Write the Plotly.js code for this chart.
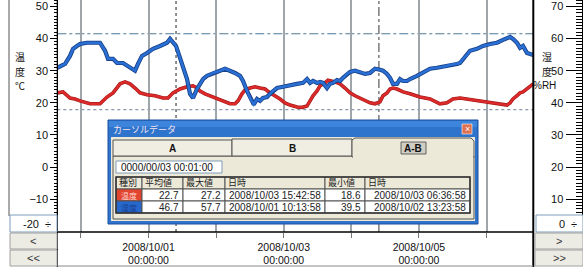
<!DOCTYPE html>
<html><head><meta charset="utf-8">
<script src="https://cdn.plot.ly/plotly-3.0.1.min.js"></script>
<style>html,body{margin:0;padding:0;background:#fff;overflow:hidden}#chart{width:583px;height:267px}</style>
</head><body><div id="chart"></div>
<script>
// ---------------- data ----------------
const tempTime = ['2008-09-29 15:37','2008-09-29 17:39','2008-09-29 20:08','2008-09-29 21:55','2008-09-29 23:41','2008-09-30 03:14','2008-09-30 06:47','2008-09-30 07:51','2008-09-30 09:16','2008-09-30 11:24','2008-09-30 13:53','2008-09-30 15:40','2008-09-30 17:26','2008-09-30 19:13','2008-09-30 20:59','2008-09-30 23:28','2008-10-01 02:18','2008-10-01 05:09','2008-10-01 06:55','2008-10-01 08:42','2008-10-01 11:11','2008-10-01 13:40','2008-10-01 15:48','2008-10-01 17:13','2008-10-01 18:17','2008-10-01 20:04','2008-10-01 21:50','2008-10-02 00:19','2008-10-02 02:27','2008-10-02 04:56','2008-10-02 06:43','2008-10-02 07:46','2008-10-02 09:11','2008-10-02 10:15','2008-10-02 12:02','2008-10-02 13:48','2008-10-02 15:35','2008-10-02 17:21','2008-10-02 19:08','2008-10-02 20:54','2008-10-02 22:41','2008-10-03 00:27','2008-10-03 02:14','2008-10-03 04:43','2008-10-03 06:37','2008-10-03 08:16','2008-10-03 09:20','2008-10-03 10:24','2008-10-03 11:49','2008-10-03 12:53','2008-10-03 14:39','2008-10-03 15:43','2008-10-03 18:12','2008-10-03 19:59','2008-10-03 21:45','2008-10-03 23:32','2008-10-04 01:19','2008-10-04 03:05','2008-10-04 04:52','2008-10-04 06:38','2008-10-04 08:25','2008-10-04 10:11','2008-10-04 11:15','2008-10-04 12:40','2008-10-04 13:44','2008-10-04 14:48','2008-10-04 16:13','2008-10-04 18:21','2008-10-04 20:50','2008-10-05 00:22','2008-10-05 03:56','2008-10-05 07:28','2008-10-05 09:57','2008-10-05 12:05','2008-10-05 14:35','2008-10-05 17:04','2008-10-05 19:11','2008-10-05 21:40','2008-10-06 01:14','2008-10-06 04:46','2008-10-06 07:16','2008-10-06 08:20','2008-10-06 09:24','2008-10-06 10:49','2008-10-06 11:53','2008-10-06 12:57','2008-10-06 14:22','2008-10-06 15:26','2008-10-06 16:36'];
const tempVals = [23.1,23.4,21.5,21.2,20.6,19.7,19.7,20.6,21.8,23.1,25.9,26.5,25.9,24.6,23.1,22.5,22.2,21.5,21.5,23.1,24.3,25.0,25.3,24.6,23.7,22.8,22.2,21.5,20.6,19.7,19.7,20.6,22.8,24.0,24.6,25.0,24.6,24.3,23.1,22.2,21.2,20.0,19.3,18.7,18.6,19.0,20.6,22.2,23.7,25.3,26.2,27.0,26.5,25.9,24.6,23.1,22.2,21.5,20.9,20.0,19.7,20.3,22.2,23.1,24.3,24.6,24.3,23.4,22.8,21.8,21.2,19.7,20.0,21.2,21.5,21.2,20.9,20.6,20.0,19.7,19.3,20.0,21.2,22.2,23.1,23.4,24.3,25.0,25.9];

const humTime = ['2008-09-29 15:37','2008-09-29 17:17','2008-09-29 18:22','2008-09-29 20:08','2008-09-29 21:12','2008-09-29 22:37','2008-09-29 23:41','2008-09-30 02:10','2008-09-30 05:00','2008-09-30 06:47','2008-09-30 08:34','2008-09-30 09:37','2008-09-30 11:24','2008-09-30 12:49','2008-09-30 14:57','2008-09-30 16:43','2008-09-30 18:08','2008-09-30 19:13','2008-09-30 20:16','2008-09-30 21:41','2008-09-30 23:28','2008-10-01 01:36','2008-10-01 04:05','2008-10-01 06:34','2008-10-01 07:38','2008-10-01 08:42','2008-10-01 09:46','2008-10-01 11:11','2008-10-01 12:15','2008-10-01 13:40','2008-10-01 14:44','2008-10-01 15:48','2008-10-01 17:13','2008-10-01 18:17','2008-10-01 19:21','2008-10-01 20:46','2008-10-01 22:54','2008-10-02 01:23','2008-10-02 03:10','2008-10-02 04:56','2008-10-02 06:43','2008-10-02 08:29','2008-10-02 09:33','2008-10-02 10:58','2008-10-02 12:02','2008-10-02 13:23','2008-10-02 14:31','2008-10-02 15:35','2008-10-02 16:39','2008-10-02 18:04','2008-10-02 19:08','2008-10-02 20:12','2008-10-02 21:37','2008-10-02 23:45','2008-10-03 02:14','2008-10-03 04:43','2008-10-03 06:51','2008-10-03 08:16','2008-10-03 09:20','2008-10-03 10:24','2008-10-03 11:49','2008-10-03 12:53','2008-10-03 13:57','2008-10-03 15:22','2008-10-03 16:26','2008-10-03 17:30','2008-10-03 18:55','2008-10-03 19:59','2008-10-03 21:03','2008-10-03 22:28','2008-10-03 23:32','2008-10-04 01:19','2008-10-04 03:05','2008-10-04 04:52','2008-10-04 06:38','2008-10-04 08:25','2008-10-04 10:11','2008-10-04 11:15','2008-10-04 12:40','2008-10-04 13:44','2008-10-04 14:48','2008-10-04 16:13','2008-10-04 17:17','2008-10-04 18:21','2008-10-04 19:46','2008-10-04 20:50','2008-10-04 23:19','2008-10-05 01:27','2008-10-05 03:56','2008-10-05 06:25','2008-10-05 08:33','2008-10-05 11:02','2008-10-05 13:31','2008-10-05 14:35','2008-10-05 15:39','2008-10-05 17:04','2008-10-05 18:08','2008-10-05 20:37','2008-10-05 22:45','2008-10-06 01:14','2008-10-06 03:43','2008-10-06 05:51','2008-10-06 07:16','2008-10-06 08:20','2008-10-06 09:24','2008-10-06 10:49','2008-10-06 11:53','2008-10-06 12:57','2008-10-06 14:22','2008-10-06 15:26','2008-10-06 16:36'];
const humVals = [50.9,51.5,52.1,54.6,56.8,57.7,58.3,58.7,58.7,58.7,56.2,53.7,53.7,52.4,52.4,51.5,50.6,50.0,52.1,54.6,55.5,56.8,57.7,58.7,59.9,58.7,57.7,54.0,50.9,47.4,42.8,41.5,44.3,45.9,47.4,48.4,49.3,50.0,50.6,50.0,49.3,48.4,46.8,43.7,41.5,39.5,41.2,40.6,41.5,41.8,42.8,43.7,44.6,45.0,45.3,45.9,46.2,47.4,46.2,46.8,46.2,46.5,46.2,44.6,45.9,46.2,47.1,46.8,47.8,49.0,49.6,50.0,49.6,49.0,49.3,50.6,50.3,50.0,49.0,47.8,45.9,45.9,47.4,46.8,46.8,47.4,48.4,49.3,50.6,50.9,51.2,51.8,52.1,52.4,53.7,54.9,56.2,56.8,57.7,58.3,58.7,59.6,60.2,60.5,59.9,58.7,57.1,57.7,55.5,55.2,54.9];

const dayTicks  = ['2008-09-30','2008-10-01','2008-10-02','2008-10-03','2008-10-04','2008-10-05','2008-10-06'];
const dayLabels = ['','2008/10/01<br>00:00:00','','2008/10/03<br>00:00:00','','2008/10/05<br>00:00:00',''];
const tempTicks = [-10, 0, 10, 20, 30, 40, 50];
const humTicks  = [10, 20, 30, 40, 50, 60, 70];
const tempMin = '-20', humMin = '0';
const tempTitle = ['温', '度', '℃'];
const humTitle = ['湿', '度', '%RH'];
const cursorA = '2008-10-01 09:46';
const cursorB = '2008-10-04 09:47';
const upperLimit = 41.5;
const lowerLimit = 17.9;

const tabNames = ['A','B','A-B'];
const spanText = '0000/00/03 00:01:00';
const tableHeader = ['種別','平均値','最大値','日時','最小値','日時'];
const seriesNames = ['温度','湿度'];
const avgVals = ['22.7','46.7'];
const maxVals = ['27.2','57.7'];
const maxTimes = ['2008/10/03 15:42:58','2008/10/01 10:13:58'];
const minVals = ['18.6','39.5'];
const minTimes = ['2008/10/03 06:36:58','2008/10/02 13:23:58'];

// ---------------- geometry helpers ----------------
const W = 583, H = 267;
const px = x => x / W, py = y => 1 - y / H;
const FONT = 'Liberation Sans, Arial, sans-serif';
const JFONT = 'Noto Sans CJK JP, sans-serif';

const shapes = [];
const annotations = [];
function rect(x0, y0, x1, y1, fill, line, lw, layer) {
  shapes.push({type:'rect', xref:'paper', yref:'paper', x0:px(x0), x1:px(x1), y0:py(y1), y1:py(y0),
    fillcolor:fill, line:{color:line||'rgba(0,0,0,0)', width:lw===undefined?1:lw}, layer:layer||'above'});
}
function pline(x0, y0, x1, y1, color, w, dash) {
  shapes.push({type:'line', xref:'paper', yref:'paper', x0:px(x0), x1:px(x1), y0:py(y0), y1:py(y1),
    line:{color:color, width:w, dash:dash||'solid'}, layer:'above'});
}
function ann(text, x, y, size, opts) {
  annotations.push(Object.assign({text:text, xref:'paper', yref:'paper', x:px(x), y:py(y), showarrow:false,
    xanchor:'center', yanchor:'middle', borderpad:0, font:{family:FONT, size:size, color:'#111'}}, opts||{}));
}

// ---------------- traces ----------------
const traces = [
  {type:'scatter', mode:'lines', x:tempTime, y:tempVals, yaxis:'y', line:{color:'#a01818', width:3.6}, hoverinfo:'skip'},
  {type:'scatter', mode:'lines', x:tempTime, y:tempVals, yaxis:'y', line:{color:'#dc2a2a', width:2.4}, hoverinfo:'skip'},
  {type:'scatter', mode:'lines', x:humTime, y:humVals, yaxis:'y2', line:{color:'#173f86', width:4.2}, hoverinfo:'skip'},
  {type:'scatter', mode:'lines', x:humTime, y:humVals, yaxis:'y2', line:{color:'#2a6fd4', width:2.6}, hoverinfo:'skip'}
];

// reference / cursor lines (data coordinates)
shapes.push({type:'line', xref:'paper', yref:'y', x0:px(57.3), x1:px(533.3), y0:upperLimit, y1:upperLimit, line:{color:'#4f7a98', width:1.2, dash:'dashdot'}, layer:'between'});
shapes.push({type:'line', xref:'paper', yref:'y', x0:px(57.3), x1:px(533.3), y0:lowerLimit, y1:lowerLimit, line:{color:'#8a98aa', width:1.2, dash:'dot'}, layer:'between'});
shapes.push({type:'line', xref:'x', yref:'paper', x0:cursorA, x1:cursorA, y0:py(232), y1:1, line:{color:'#555', width:1.3, dash:'dot'}, layer:'between'});
shapes.push({type:'line', xref:'x', yref:'paper', x0:cursorB, x1:cursorB, y0:py(232), y1:1, line:{color:'#666', width:1.3, dash:'dashdot'}, layer:'between'});

// frame lines
pline(57.3, 0, 57.3, 267, '#000', 1.2);
pline(533.3, 0, 533.3, 267, '#000', 2);
pline(57.3, 232, 533.3, 232, '#000', 1.5);
pline(57.3, 266, 533.3, 266, '#888', 1);
pline(9, 0, 9, 216, '#555', 1);

// axis titles (stacked vertically)
const titleRows = [56.5, 71, 85];
tempTitle.forEach((t, i) => ann(t, 20, titleRows[i], 10, {font:{family:JFONT, size:10, color:'#111'}}));
humTitle.forEach((t, i) => ann(t, i < 2 ? 547 : 544, titleRows[i], 10, {font:{family: i < 2 ? JFONT : FONT, size:10, color:'#111'}}));

// spinner boxes and buttons (left)
rect(10, 215, 57, 232, '#ffffff', '#7f9db9', 1);
ann(tempMin, 40, 224, 11, {xanchor:'right'});
ann('÷', 48, 224, 11);
rect(10, 233, 57, 249, '#ecebe4', '#a0a0a0', 1);
ann('&lt;', 33, 241, 11, {font:{family:FONT, size:11, color:'#333'}});
rect(10, 250, 57, 266, '#ecebe4', '#a0a0a0', 1);
ann('&lt;&lt;', 33, 258, 11, {font:{family:FONT, size:11, color:'#333'}});
// right
rect(536, 215, 583, 232, '#ffffff', '#7f9db9', 1);
ann(humMin, 566, 224, 11, {xanchor:'right'});
ann('÷', 574, 224, 11);
rect(535, 233, 583, 249, '#ecebe4', '#a0a0a0', 1);
ann('&gt;', 559, 241, 11, {font:{family:FONT, size:11, color:'#333'}});
rect(535, 250, 583, 266, '#ecebe4', '#a0a0a0', 1);
ann('&gt;&gt;', 559, 258, 11, {font:{family:FONT, size:11, color:'#333'}});

// ---------------- cursor-data dialog ----------------
rect(108, 120, 478, 224, '#2f74cc', '#1d4f9c', 1);
rect(109, 121, 477, 127, '#3d84dc', null, 0);
ann('カーソルデータ', 112, 129, 9, {xanchor:'left', font:{family:JFONT, size:9, color:'#f6e6f0'}});
rect(462, 124, 472, 134, '#e0704f', '#ffffff', 0.6);
ann('×', 467, 129, 9, {font:{family:FONT, size:9, color:'#fff'}});
rect(111, 137, 475, 221, '#ece9d8', null, 0);
rect(113, 156, 474, 219, '#ece9d8', '#555', 1);
rect(113, 140, 232, 156, '#f0eee2', '#555', 1);
rect(232, 139, 352, 156, '#f0eee2', '#555', 1);
shapes.push({type:'path', xref:'paper', yref:'paper', layer:'above',
  path:`M ${px(352)},${py(157)} L ${px(352)},${py(140)} L ${px(355)},${py(138)} L ${px(471)},${py(138)} L ${px(474)},${py(141)} L ${px(474)},${py(157)} Z`,
  fillcolor:'#ece9d8', line:{color:'#555', width:1}});
rect(353, 155, 473, 158, '#ece9d8', null, 0);
rect(401, 142, 426, 154, '#cfcdc4', '#444', 0.8);
ann('<b>' + tabNames[0] + '</b>', 172, 148, 10);
ann('<b>' + tabNames[1] + '</b>', 292, 148, 10);
ann('<b>' + tabNames[2] + '</b>', 413, 148, 10);
rect(116, 161, 222, 173, '#ffffff', '#7f9db9', 1);
ann(spanText, 120, 167, 10, {xanchor:'left'});

// table drawn from the arrays
const colEdges = [116, 142, 183, 225, 325, 365, 470];
const rowEdges = [177, 189, 201, 213];
const nameFills = ['#e2452f', '#2668cc'];
const nameColors = ['#ffd6d0', '#1a3f8c'];
const columns = [seriesNames, avgVals, maxVals, maxTimes, minVals, minTimes];
tableHeader.forEach((h, c) => {
  rect(colEdges[c], rowEdges[0], colEdges[c + 1], rowEdges[1], '#ece9d8', '#555', 1);
  ann(h, colEdges[c] + 2, (rowEdges[0] + rowEdges[1]) / 2 - 0.7, 9, {xanchor:'left', font:{family:JFONT, size:9, color:'#222'}});
});
for (let r = 0; r < seriesNames.length; r++) {
  const ym = (rowEdges[r + 1] + rowEdges[r + 2]) / 2;
  columns.forEach((col, c) => {
    rect(colEdges[c], rowEdges[r + 1], colEdges[c + 1], rowEdges[r + 2], c === 0 ? nameFills[r] : '#ffffff', '#555', 1);
    if (c === 0) ann(col[r], (colEdges[0] + colEdges[1]) / 2, ym, 8, {font:{family:JFONT, size:8, color:nameColors[r]}});
    else ann(col[r], colEdges[c + 1] - 3, ym, 10, {xanchor:'right', font:{family:FONT, size:10, color:'#222'}});
  });
}
rect(116, 177, 470, 213, 'rgba(0,0,0,0)', '#333', 1.5);

// ---------------- layout ----------------
const layout = {
  width:W, height:H, margin:{l:0, r:0, t:0, b:0},
  paper_bgcolor:'#ffffff', plot_bgcolor:'#ffffff', showlegend:false,
  xaxis:{type:'date', domain:[px(57.3), px(533.3)], range:['2008-09-29 15:37','2008-10-06 16:36'],
    tickmode:'array', tickvals:dayTicks, ticktext:dayLabels,
    showgrid:true, gridcolor:'#9ea5ab', gridwidth:2, zeroline:false,
    ticks:'outside', ticklen:5, tickcolor:'#777', showline:false,
    tickfont:{family:FONT, size:10.5, color:'#111'}, fixedrange:true},
  yaxis:{domain:[py(232), 1], range:[-20.2, 52], anchor:'free', position:px(57.3), side:'left',
    tickmode:'array', tickvals:tempTicks, showgrid:false, zeroline:false, showline:true, linecolor:'#000', linewidth:1,
    ticks:'outside', ticklen:7, tickcolor:'#000', tickfont:{family:FONT, size:11, color:'#111'},
    minor:{dtick:1, ticks:'outside', ticklen:3, tickcolor:'#000', showgrid:false}},
  yaxis2:{domain:[py(232), 1], range:[-0.2, 72], overlaying:'y', anchor:'free', position:px(581.5), side:'left',
    tickmode:'array', tickvals:humTicks, showgrid:false, zeroline:false, showline:true, linecolor:'#000', linewidth:1,
    ticks:'outside', ticklen:16, tickcolor:'#000', tickfont:{family:FONT, size:11, color:'#111'},
    minor:{dtick:1, ticks:'outside', ticklen:6, tickcolor:'#000', showgrid:false}},
  shapes:shapes, annotations:annotations
};
Plotly.newPlot('chart', traces, layout, {staticPlot:true, displayModeBar:false});
</script></body></html>
